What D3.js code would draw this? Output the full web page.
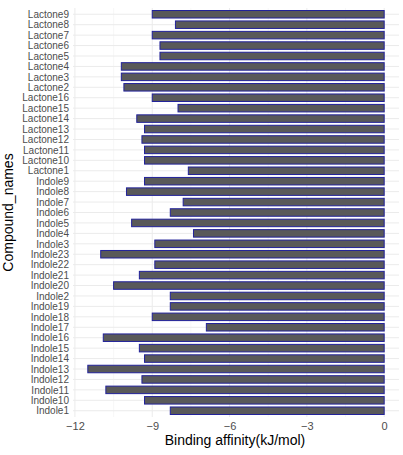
<!DOCTYPE html>
<html>
<head>
<meta charset="utf-8">
<script src="https://cdn.jsdelivr.net/npm/d3@7"></script>
<style>
html,body{margin:0;padding:0;background:#fff;}
svg{display:block;font-family:"Liberation Sans",Arial,sans-serif;}
</style>
</head>
<body>
<svg id="chart" width="403" height="455"></svg>
<script>
const categories = ["Lactone9","Lactone8","Lactone7","Lactone6","Lactone5","Lactone4","Lactone3","Lactone2",
  "Lactone16","Lactone15","Lactone14","Lactone13","Lactone12","Lactone11","Lactone10","Lactone1",
  "Indole9","Indole8","Indole7","Indole6","Indole5","Indole4","Indole3","Indole23","Indole22","Indole21",
  "Indole20","Indole2","Indole19","Indole18","Indole17","Indole16","Indole15","Indole14","Indole13",
  "Indole12","Indole11","Indole10","Indole1"];
const values = [-9.0,-8.1,-9.0,-8.7,-8.7,-10.2,-10.2,-10.1,
  -9.0,-8.0,-9.6,-9.3,-9.4,-9.3,-9.3,-7.6,
  -9.3,-10.0,-7.8,-8.3,-9.8,-7.4,-8.9,-11.0,-8.9,-9.5,
  -10.5,-8.3,-8.3,-9.0,-6.9,-10.9,-9.5,-9.3,-11.5,
  -9.4,-10.8,-9.3,-8.3];
const xTicks = [-12,-9,-6,-3,0];
const xMinor = [-10.5,-7.5,-4.5,-1.5];
const xTitle = "Binding affinity(kJ/mol)";
const yTitle = "Compound_names";

const svg = d3.select("#chart");
const panel = {left:73, right:399, top:8, bottom:417};

const x = d3.scaleLinear().domain([-12.075, 0.575]).range([panel.left, panel.right]);
const y = d3.scalePoint().domain(categories).range([panel.top, panel.bottom]).padding(0.6);
const step = y.step();
const barH = step * 0.72;

const g = svg.append("g");
g.selectAll("line.minor").data(xMinor).enter().append("line")
  .attr("x1", d=>x(d)).attr("x2", d=>x(d)).attr("y1", panel.top).attr("y2", panel.bottom)
  .attr("stroke", "#f4f4f4").attr("stroke-width", 0.6);
g.selectAll("line.majx").data(xTicks).enter().append("line")
  .attr("x1", d=>x(d)).attr("x2", d=>x(d)).attr("y1", panel.top).attr("y2", panel.bottom)
  .attr("stroke", "#ebebeb").attr("stroke-width", 1);
g.selectAll("line.majy").data(categories).enter().append("line")
  .attr("x1", panel.left).attr("x2", panel.right).attr("y1", d=>y(d)).attr("y2", d=>y(d))
  .attr("stroke", "#ebebeb").attr("stroke-width", 1);

g.selectAll("rect.bar").data(categories).enter().append("rect")
  .attr("x", (d,i)=>x(values[i]))
  .attr("width", (d,i)=>x(0)-x(values[i]))
  .attr("y", d=>y(d)-barH/2)
  .attr("height", barH)
  .attr("fill", "#595959")
  .attr("stroke", "#22229a")
  .attr("stroke-width", 1);

const yAxis = d3.axisLeft(y).tickSize(0).tickPadding(4);
const ya = svg.append("g").attr("transform", `translate(${panel.left},0)`).call(yAxis);
ya.select(".domain").remove();
ya.selectAll("text").attr("font-size", 10).attr("fill", "#4d4d4d")
  .attr("font-family", "'Liberation Sans',Arial,sans-serif");

const xAxis = d3.axisBottom(x).tickValues(xTicks).tickSize(0).tickPadding(5).tickFormat(d3.format("d"));
const xa = svg.append("g").attr("transform", `translate(0,${panel.bottom})`).call(xAxis);
xa.select(".domain").remove();
xa.selectAll("text").attr("font-size", 11).attr("fill", "#4d4d4d")
  .attr("font-family", "'Liberation Sans',Arial,sans-serif");

svg.append("text").attr("x", (panel.left+panel.right)/2 - 1).attr("y", 445)
  .attr("text-anchor", "middle").attr("font-size", 14).attr("fill", "#000").text(xTitle);
svg.append("text").attr("transform", `translate(13,${(panel.top+panel.bottom)/2}) rotate(-90)`)
  .attr("text-anchor", "middle").attr("font-size", 14).attr("fill", "#000").text(yTitle);
</script>
</body>
</html>
